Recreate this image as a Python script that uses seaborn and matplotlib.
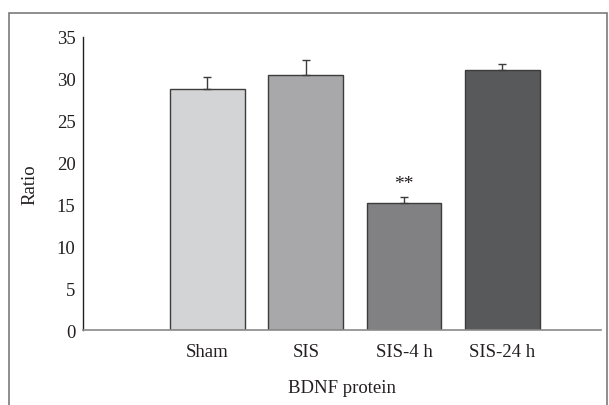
import matplotlib
matplotlib.use("Agg")
import matplotlib.pyplot as plt
import seaborn as sns
import pandas as pd
from matplotlib.patches import Rectangle

sns.set_style("white")
plt.rcParams['font.family'] = ['Liberation Serif', 'DejaVu Serif']

# data
groups = ["Sham", "SIS", "SIS-4 h", "SIS-24 h"]
ratio = [28.8, 30.4, 15.2, 31.0]
sem = [1.4, 1.8, 0.7, 0.8]
bar_colors = ["#d3d4d6", "#a7a8ab", "#808184", "#58595b"]

df = pd.DataFrame({"group": groups, "ratio": ratio})

fig = plt.figure(figsize=(6.09, 4.06), dpi=100)
ax = fig.add_axes([0.1355, 0.1847, 0.851, 0.7223])

sns.barplot(data=df, x="group", y="ratio", hue="group", palette=bar_colors,
            width=0.76, edgecolor="#3c3c3c", linewidth=1.0, errorbar=None,
            legend=False, ax=ax)

# upward-only error bars
ax.errorbar(range(len(groups)), ratio, yerr=[[0] * len(sem), sem], fmt="none",
            ecolor="#3c3c3c", elinewidth=1.0, capsize=3, capthick=1.0)

# significance mark
ax.text(2, ratio[2] + sem[2] + 0.6, "**", ha="center", va="bottom", fontsize=14, color="#231f20")

fs = 13.5
ax.set_xlim(-1.27, 4.0)
ax.set_ylim(0, 35)
ax.set_yticks(range(0, 36, 5))
ax.tick_params(axis="y", direction="in", length=7, width=1, colors="#231f20", labelsize=fs, pad=5)
ax.tick_params(axis="x", length=0, labelsize=fs, pad=9)
for lab in ax.get_yticklabels() + ax.get_xticklabels():
    lab.set_color("#231f20")

for s in ["top", "right"]:
    ax.spines[s].set_visible(False)
ax.spines["left"].set_color("#231f20")
ax.spines["left"].set_linewidth(1.0)
ax.spines["bottom"].set_color("#8a8a8a")
ax.spines["bottom"].set_linewidth(1.2)

ax.set_xlabel("BDNF protein", fontsize=fs, color="#231f20", labelpad=14)
ax.set_ylabel("Ratio", fontsize=fs, color="#231f20", labelpad=13)

# outer frame around the figure
fig.patches.append(Rectangle((8.5 / 609, -0.05), 598 / 609, 1.05 - 13.5 / 406,
                             transform=fig.transFigure, fill=False,
                             edgecolor="#7a7a7a", linewidth=1.2))

fig.savefig("out.png", dpi=100)
